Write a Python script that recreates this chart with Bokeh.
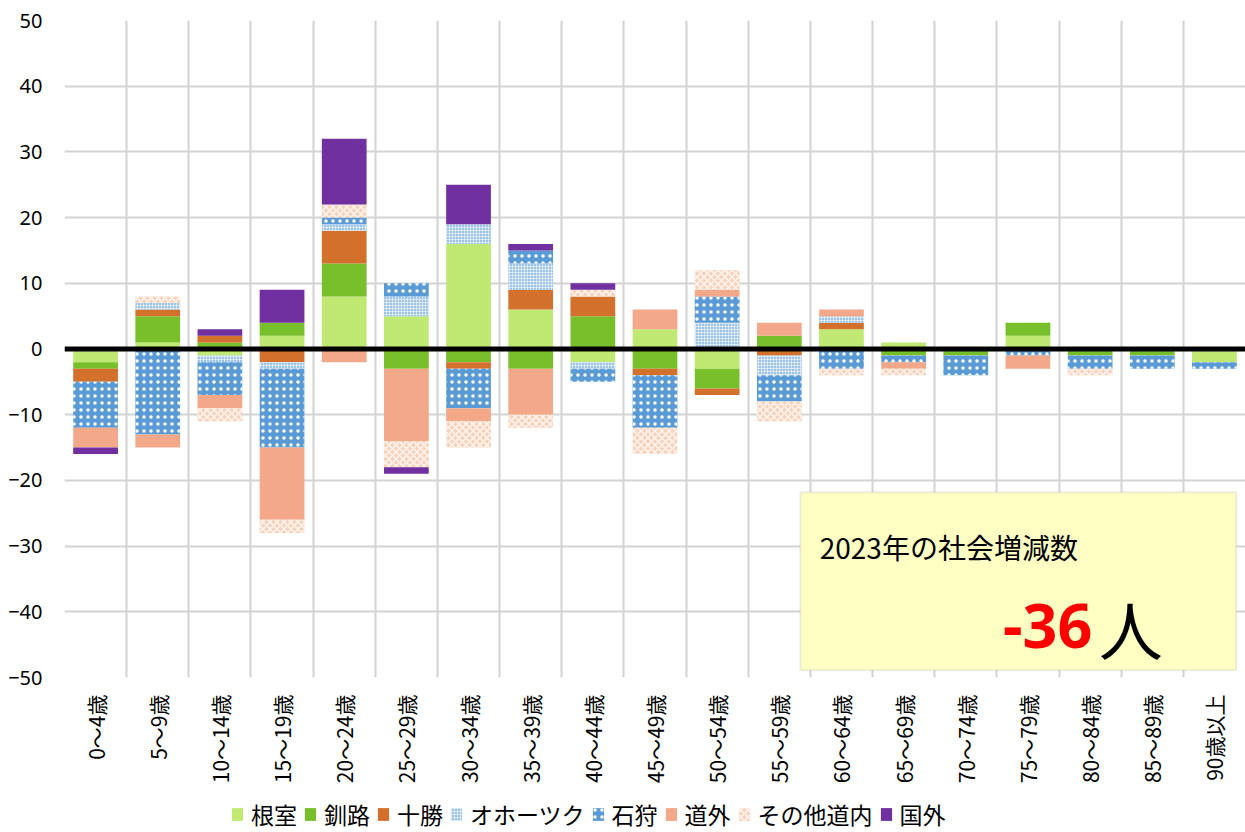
import numpy as np
from bokeh.plotting import figure
from bokeh.layouts import column
from bokeh.models import (Range1d, FixedTicker, Span, BoxAnnotation, Label,
                          Legend, LegendItem, ColumnDataSource)
from bokeh.embed import file_html
from bokeh.resources import INLINE

categories = ["0～4歳", "5～9歳", "10～14歳", "15～19歳", "20～24歳", "25～29歳",
              "30～34歳", "35～39歳", "40～44歳", "45～49歳", "50～54歳", "55～59歳",
              "60～64歳", "65～69歳", "70～74歳", "75～79歳", "80～84歳", "85～89歳",
              "90歳以上"]

nemuro  = [-2, 1, -1, 2, 8, 5, 16, 6, -2, 3, -3, 0, 3, 1, 0, 2, 0, 0, -2]
kushiro = [-1, 4, 1, 2, 5, -3, -2, -3, 5, -3, -3, 2, 0, -1, -1, 2, -1, -1, 0]
tokachi = [-2, 1, 1, -2, 5, 0, -1, 3, 3, -1, -1, -1, 1, 0, 0, 0, 0, 0, 0]
okhotsk = [0, 1, -1, -1, 1, 3, 3, 4, -1, 0, 4, -3, 1, 0, 0, 0, 0, 0, 0]
ishikari = [-7, -13, -5, -12, 1, 2, -6, 2, -2, -8, 4, -4, -3, -1, -3, -1, -2, -2, -1]
dougai  = [-3, -2, -2, -11, -2, -11, -2, -7, 0, 3, 1, 2, 1, -1, 0, -2, 0, 0, 0]
sonota  = [0, 1, -2, -2, 2, -4, -4, -2, 1, -4, 3, -3, -1, -1, 0, 0, -1, 0, 0]
kokugai = [-1, 0, 1, 5, 10, -1, 6, 1, 1, 0, 0, 0, 0, 0, 0, 0, 0, 0, 0]

series_names = ["根室", "釧路", "十勝", "オホーツク", "石狩", "道外", "その他道内", "国外"]
series_values = [nemuro, kushiro, tokachi, okhotsk, ishikari, dougai, sonota, kokugai]

y_ticks = [-50, -40, -30, -20, -10, 0, 10, 20, 30, 40, 50]
total_label = "-36"

styles = [
    dict(fill_color="#bfe973"),
    dict(fill_color="#77bf2b"),
    dict(fill_color="#d2702c"),
    dict(fill_color="#9dc3e6", hatch_pattern="+", hatch_color="white", hatch_scale=3, hatch_weight=1, hatch_alpha=0.55),
    dict(fill_color="#5b9bd5", hatch_pattern=".", hatch_color="white", hatch_scale=7, hatch_weight=1.5),
    dict(fill_color="#f2a889"),
    dict(fill_color="#f9d2bb", hatch_pattern="x", hatch_color="white", hatch_scale=7, hatch_weight=1.5, hatch_alpha=0.8),
    dict(fill_color="#7030a0"),
]

n = len(categories)
xs = np.arange(n) + 0.5
keys = ["s%d" % i for i in range(len(series_names))]
pos = {k: np.clip(np.array(v), 0, None) for k, v in zip(keys, series_values)}
neg = {k: np.clip(np.array(v), None, 0) for k, v in zip(keys, series_values)}
pos["x"] = xs
neg["x"] = xs
src_pos = ColumnDataSource(pos)
src_neg = ColumnDataSource(neg)

p = figure(width=1245, height=790, output_backend="svg", toolbar_location=None,
           x_range=Range1d(0, n), y_range=Range1d(-50, 50),
           min_border_left=64, min_border_top=20, min_border_bottom=113,
           min_border_right=0)
p.outline_line_color = None
p.background_fill_color = "white"

# grids
p.xgrid.ticker = FixedTicker(ticks=list(range(0, n + 1)))
p.ygrid.ticker = FixedTicker(ticks=y_ticks)
for g in (p.xgrid, p.ygrid):
    g.grid_line_color = "#d3d3d3"
    g.grid_line_width = 2

# axes
p.yaxis.ticker = FixedTicker(ticks=y_ticks)
p.yaxis.axis_line_color = None
p.yaxis.major_tick_line_color = None
p.yaxis.minor_tick_line_color = None
p.yaxis.major_tick_out = 0
p.yaxis.major_tick_in = 0
p.yaxis.minor_tick_out = 0
p.yaxis.major_label_text_font = "Noto Sans"
p.yaxis.major_label_text_font_size = "20px"
p.yaxis.major_label_text_color = "black"
p.yaxis.major_label_standoff = 22

p.xaxis.ticker = FixedTicker(ticks=list(xs))
p.xaxis.major_label_overrides = {float(x): c for x, c in zip(xs, categories)}
p.xaxis.major_label_orientation = np.pi / 2
p.xaxis.axis_line_color = None
p.xaxis.major_tick_line_color = None
p.xaxis.minor_tick_line_color = None
p.xaxis.major_tick_out = 0
p.xaxis.major_tick_in = 0
p.xaxis.minor_tick_out = 0
p.xaxis.major_label_text_font = "Noto Sans CJK JP"
p.xaxis.major_label_text_font_size = "21px"
p.xaxis.major_label_text_color = "black"
p.xaxis.major_label_standoff = 17

rp = p.vbar_stack(keys, x="x", width=0.72, source=src_pos,
                  line_color=None, fill_color=[s["fill_color"] for s in styles])
rn = p.vbar_stack(keys, x="x", width=0.72, source=src_neg,
                  line_color=None, fill_color=[s["fill_color"] for s in styles])
for r1, r2, s in zip(rp, rn, styles):
    for r in (r1, r2):
        for k, v in s.items():
            setattr(r.glyph, k, v)

p.add_layout(Span(location=0, dimension="width", line_color="black", line_width=5))

# annotation box
p.add_layout(BoxAnnotation(left=11.84, right=18.85, top=-21.8, bottom=-48.9,
                           fill_color="#ffffc4", fill_alpha=1,
                           line_color="#bfbfbf", line_width=2, level="overlay"))
p.add_layout(Label(x=12.15, y=-30.2, text="2023年の社会増減数",
                   text_font="Noto Sans CJK JP", text_font_size="28px",
                   text_color="black", text_baseline="alphabetic", level="overlay"))
p.add_layout(Label(x=15.1, y=-42.1, text=total_label,
                   text_font="Noto Sans", text_font_size="61px",
                   text_font_style="bold", text_color="#ff0000",
                   text_baseline="alphabetic", level="overlay"))
p.add_layout(Label(x=16.64, y=-42.3, text="人",
                   text_font="Noto Sans CJK JP", text_font_size="64px",
                   text_color="black", text_baseline="alphabetic", level="overlay"))

# legend in a strip figure below the chart (swatch renderers sit outside its range)
lg = figure(width=1245, height=42, output_backend="svg", toolbar_location=None,
            x_range=Range1d(0, 1), y_range=Range1d(0, 1),
            x_axis_location=None, y_axis_location=None,
            min_border=0, min_border_left=0, min_border_right=0,
            min_border_top=0, min_border_bottom=0, outline_line_color=None)
lg.grid.visible = False
items = []
for nm, s in zip(series_names, styles):
    r = lg.vbar(x=[5], top=[5], bottom=[4], width=0.5, line_color=None, **s)
    items.append(LegendItem(label=nm, renderers=[r]))
legend = Legend(items=items, orientation="horizontal", location=(166, 1),
                label_text_font="Noto Sans CJK JP", label_text_font_size="23px",
                label_text_color="black", glyph_width=14, glyph_height=16,
                label_standoff=7, spacing=6, padding=0, margin=0,
                background_fill_alpha=0, border_line_color=None,
                label_height=22)
lg.add_layout(legend, "center")

layout = column(p, lg, spacing=0)
open("out.html", "w").write(file_html(layout, INLINE))
